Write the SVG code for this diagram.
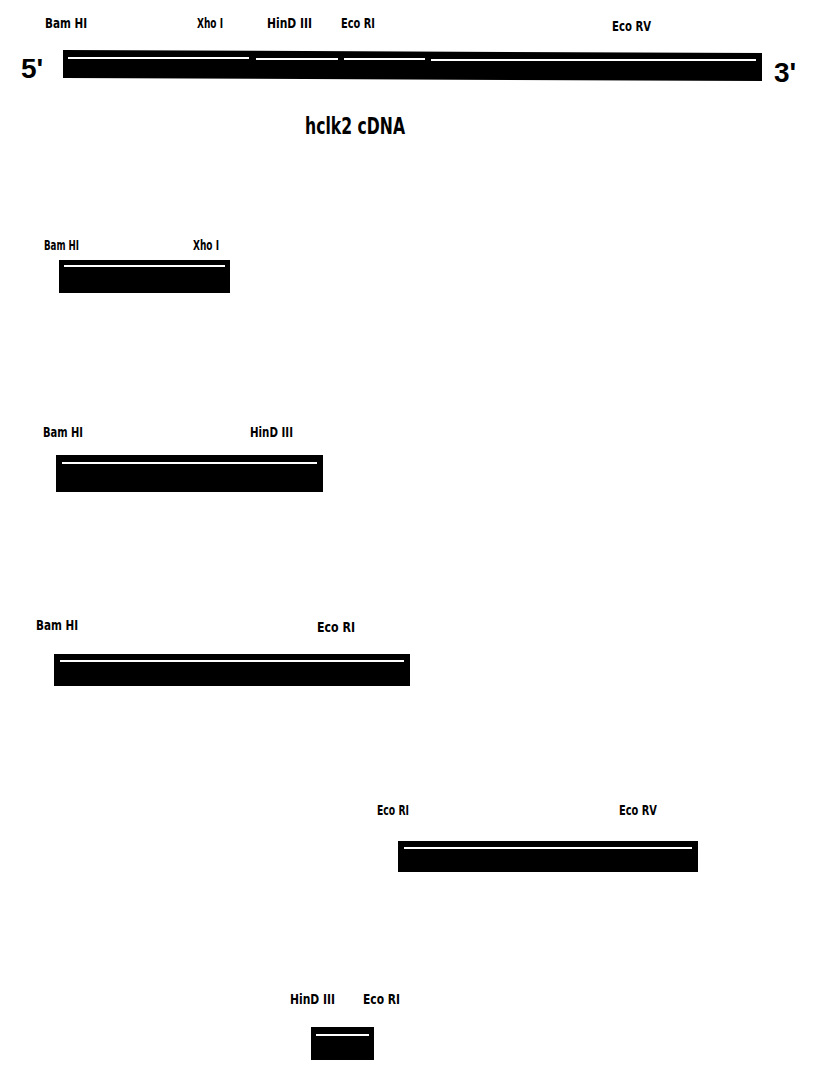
<svg xmlns="http://www.w3.org/2000/svg" width="818" height="1083" viewBox="0 0 818 1083">
<style>
.bar{fill:#000}
.hl{fill:#fff}
.lbl{font-family:"DejaVu Sans Condensed","DejaVu Sans",sans-serif;font-stretch:condensed;font-weight:bold;font-size:14px;fill:#000}
.end{font-family:"Liberation Sans",Arial,sans-serif;font-weight:bold;font-size:28px;fill:#000}
.title{font-family:"DejaVu Sans Condensed","DejaVu Sans",sans-serif;font-stretch:condensed;font-weight:bold;font-size:23px;fill:#000}
</style>
<rect width="818" height="1083" fill="#fff"/>
<g id="main">
<text class="lbl" x="45" y="28" textLength="42" lengthAdjust="spacingAndGlyphs">Bam HI</text>
<text class="lbl" x="197" y="28" textLength="26" lengthAdjust="spacingAndGlyphs">Xho I</text>
<text class="lbl" x="267" y="28" textLength="45" lengthAdjust="spacingAndGlyphs">HinD III</text>
<text class="lbl" x="341" y="28" textLength="34" lengthAdjust="spacingAndGlyphs">Eco RI</text>
<text class="lbl" x="612" y="31" textLength="39" lengthAdjust="spacingAndGlyphs">Eco RV</text>
<text class="end" x="21" y="78">5'</text>
<text class="end" x="774" y="82">3'</text>
<polygon class="bar" points="63,50 762,53 762,81 63,78"/>
<rect class="hl" x="68" y="57" width="181" height="2"/>
<rect class="hl" x="256" y="58" width="82" height="2"/>
<rect class="hl" x="344" y="58" width="81" height="2"/>
<rect class="hl" x="431" y="59" width="325" height="2"/>
<text class="title" x="305" y="134" textLength="100" lengthAdjust="spacingAndGlyphs">hclk2 cDNA</text>
</g>
<g id="frag1">
<text class="lbl" x="44" y="250" textLength="35" lengthAdjust="spacingAndGlyphs">Bam HI</text>
<text class="lbl" x="193" y="250" textLength="26" lengthAdjust="spacingAndGlyphs">Xho I</text>
<rect class="bar" x="59" y="260" width="171" height="33"/>
<rect class="hl" x="64" y="265" width="161" height="2"/>
</g>
<g id="frag2">
<text class="lbl" x="43" y="437" textLength="40" lengthAdjust="spacingAndGlyphs">Bam HI</text>
<text class="lbl" x="250" y="437" textLength="43" lengthAdjust="spacingAndGlyphs">HinD III</text>
<rect class="bar" x="56" y="455" width="267" height="37"/>
<rect class="hl" x="62" y="462" width="255" height="2"/>
</g>
<g id="frag3">
<text class="lbl" x="36" y="630" textLength="42" lengthAdjust="spacingAndGlyphs">Bam HI</text>
<text class="lbl" x="317" y="632" textLength="38" lengthAdjust="spacingAndGlyphs">Eco RI</text>
<rect class="bar" x="54" y="654" width="356" height="32"/>
<rect class="hl" x="60" y="660" width="344" height="2"/>
</g>
<g id="frag4">
<text class="lbl" x="377" y="815" textLength="32" lengthAdjust="spacingAndGlyphs">Eco RI</text>
<text class="lbl" x="619" y="815" textLength="38" lengthAdjust="spacingAndGlyphs">Eco RV</text>
<rect class="bar" x="398" y="841" width="300" height="31"/>
<rect class="hl" x="404" y="847" width="288" height="2"/>
</g>
<g id="frag5">
<text class="lbl" x="290" y="1004" textLength="45" lengthAdjust="spacingAndGlyphs">HinD III</text>
<text class="lbl" x="363" y="1004" textLength="37" lengthAdjust="spacingAndGlyphs">Eco RI</text>
<rect class="bar" x="311" y="1027" width="63" height="33"/>
<rect class="hl" x="316" y="1034" width="53" height="2"/>
</g>
<g id="connectors"/>
</svg>
